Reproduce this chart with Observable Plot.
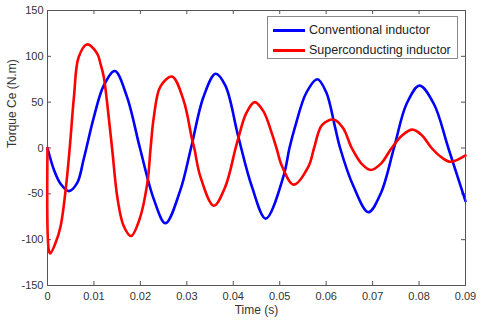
<!DOCTYPE html>
<html><head><meta charset="utf-8">
<script src="https://cdn.jsdelivr.net/npm/d3@7"></script>
<script src="https://cdn.jsdelivr.net/npm/@observablehq/plot@0.6"></script>
<style>
body{margin:0;background:#fff;font-family:"Liberation Sans",Arial,sans-serif}
#wrap{position:relative;width:480px;height:324px}
#legend{position:absolute;left:267px;top:16px;width:191px;height:43px;border:1px solid #8a8a8a;background:#fff;font-size:12.5px;color:#222;box-sizing:border-box}
.row{position:absolute;left:5px;height:20px;display:flex;align-items:center;white-space:nowrap}
.sw{width:32px;height:0;border-top:3px solid;margin-right:4px}
</style></head><body><div id="wrap"></div>
<script>
const seriesNames = ["Conventional inductor", "Superconducting inductor"];
const seriesColors = ["#0000ff", "#ff0000"];

const tConv = [0, 0.0014, 0.0028, 0.0046, 0.0064, 0.0078, 0.0100, 0.0121, 0.0145, 0.0171, 0.0199, 0.0229, 0.0254, 0.0286, 0.0309, 0.0336, 0.0362, 0.0383, 0.0411, 0.0440, 0.0470, 0.0508, 0.0521, 0.0533, 0.0557, 0.0581, 0.0600, 0.0619, 0.0630, 0.0659, 0.0691, 0.0718, 0.0746, 0.0773, 0.0801, 0.0832, 0.0863, 0.0900];
const vConv = [0, -24, -39, -47, -38, -12, 34, 68, 84, 56, 0, -56, -82, -46, 0, 56, 81, 68, 12, -42, -77, -31, 0, 23, 60, 75, 61, 23, 0, -42, -70, -49, 0, 48, 68, 48, 0, -58];

const tSup = [0, 0.0003, 0.0006, 0.0017, 0.0028, 0.0039, 0.0048, 0.0057, 0.0067, 0.0085, 0.0107, 0.0114, 0.0121, 0.0130, 0.0139, 0.0151, 0.0164, 0.0180, 0.0198, 0.0215, 0.0222, 0.0229, 0.0243, 0.0268, 0.0293, 0.0311, 0.0316, 0.0329, 0.0358, 0.0383, 0.0405, 0.0411, 0.0428, 0.0446, 0.0465, 0.0483, 0.0493, 0.0505, 0.0530, 0.0562, 0.0574, 0.0591, 0.0616, 0.0636, 0.0655, 0.0676, 0.0696, 0.0718, 0.0741, 0.0764, 0.0786, 0.0806, 0.0827, 0.0848, 0.0868, 0.0900];
const vSup = [0, -112, -115, -104, -86, -46, 1, 56, 99, 113, 103, 92, 78, 42, 0, -56, -85, -96, -78, -38, 0, 34, 67, 78, 52, 10, 0, -31, -63, -42, 0, 11, 38, 50, 40, 16, 0, -20, -40, -20, 0, 25, 31, 22, 0, -17, -24, -17, 0, 14, 20, 14, 0, -10, -15, -8];

const xTicks = [0, 0.01, 0.02, 0.03, 0.04, 0.05, 0.06, 0.07, 0.08, 0.09];
const yTicks = [-150, -100, -50, 0, 50, 100, 150];

const W = 480, H = 324, mL = 47, mR = 15, mT = 10, mB = 39;
const innerW = W - mL - mR, innerH = H - mT - mB;

const conv = tConv.map((t, i) => ({t, v: vConv[i]}));
const sup = tSup.map((t, i) => ({t, v: vSup[i]}));

const fmtX = d => String(Math.round(d * 100) / 100);
const axisColor = "#555";
const plot = Plot.plot({
  width: W, height: H,
  marginLeft: mL, marginRight: mR, marginTop: mT, marginBottom: mB,
  style: {fontFamily: "'Liberation Sans', Arial, sans-serif", fontSize: "11px", color: "#333", background: "#fff"},
  x: {domain: [0, 0.09], ticks: xTicks, tickFormat: fmtX, label: null},
  y: {domain: [-150, 150], ticks: yTicks, tickFormat: d => String(d), label: null},
  marks: [
    Plot.axisX({ticks: xTicks, tickSize: 0, tickPadding: 7, tickFormat: fmtX, label: null}),
    Plot.axisY({ticks: yTicks, tickSize: 0, tickPadding: 4, tickFormat: d => String(d), label: null}),
    Plot.tickX(xTicks, {x: d => d, insetTop: innerH - 4, stroke: axisColor}),
    Plot.tickX(xTicks, {x: d => d, insetBottom: innerH - 4, stroke: axisColor}),
    Plot.tickY(yTicks, {y: d => d, insetRight: innerW - 4, stroke: axisColor}),
    Plot.tickY(yTicks, {y: d => d, insetLeft: innerW - 4, stroke: axisColor}),
    Plot.line(conv, {x: "t", y: "v", stroke: seriesColors[0], strokeWidth: 2.6, curve: "catmull-rom"}),
    Plot.line(sup, {x: "t", y: "v", stroke: seriesColors[1], strokeWidth: 2.6, curve: "catmull-rom"}),
    Plot.frame({stroke: axisColor}),
    Plot.text(["Time (s)"], {frameAnchor: "bottom", dy: 28, fontSize: 12, fill: "#333"}),
    Plot.text(["Torque Ce (N.m)"], {frameAnchor: "left", dx: -35, rotate: -90, fontSize: 12, fill: "#333"})
  ]
});
const wrap = document.getElementById("wrap");
wrap.appendChild(plot);

const legend = document.createElement("div");
legend.id = "legend";
seriesNames.forEach((name, i) => {
  const row = document.createElement("div");
  row.className = "row";
  row.style.top = (3 + i * 20) + "px";
  const sw = document.createElement("span");
  sw.className = "sw";
  sw.style.borderTopColor = seriesColors[i];
  const label = document.createElement("span");
  label.textContent = name;
  row.appendChild(sw); row.appendChild(label);
  legend.appendChild(row);
});
wrap.appendChild(legend);
</script>
</body></html>
